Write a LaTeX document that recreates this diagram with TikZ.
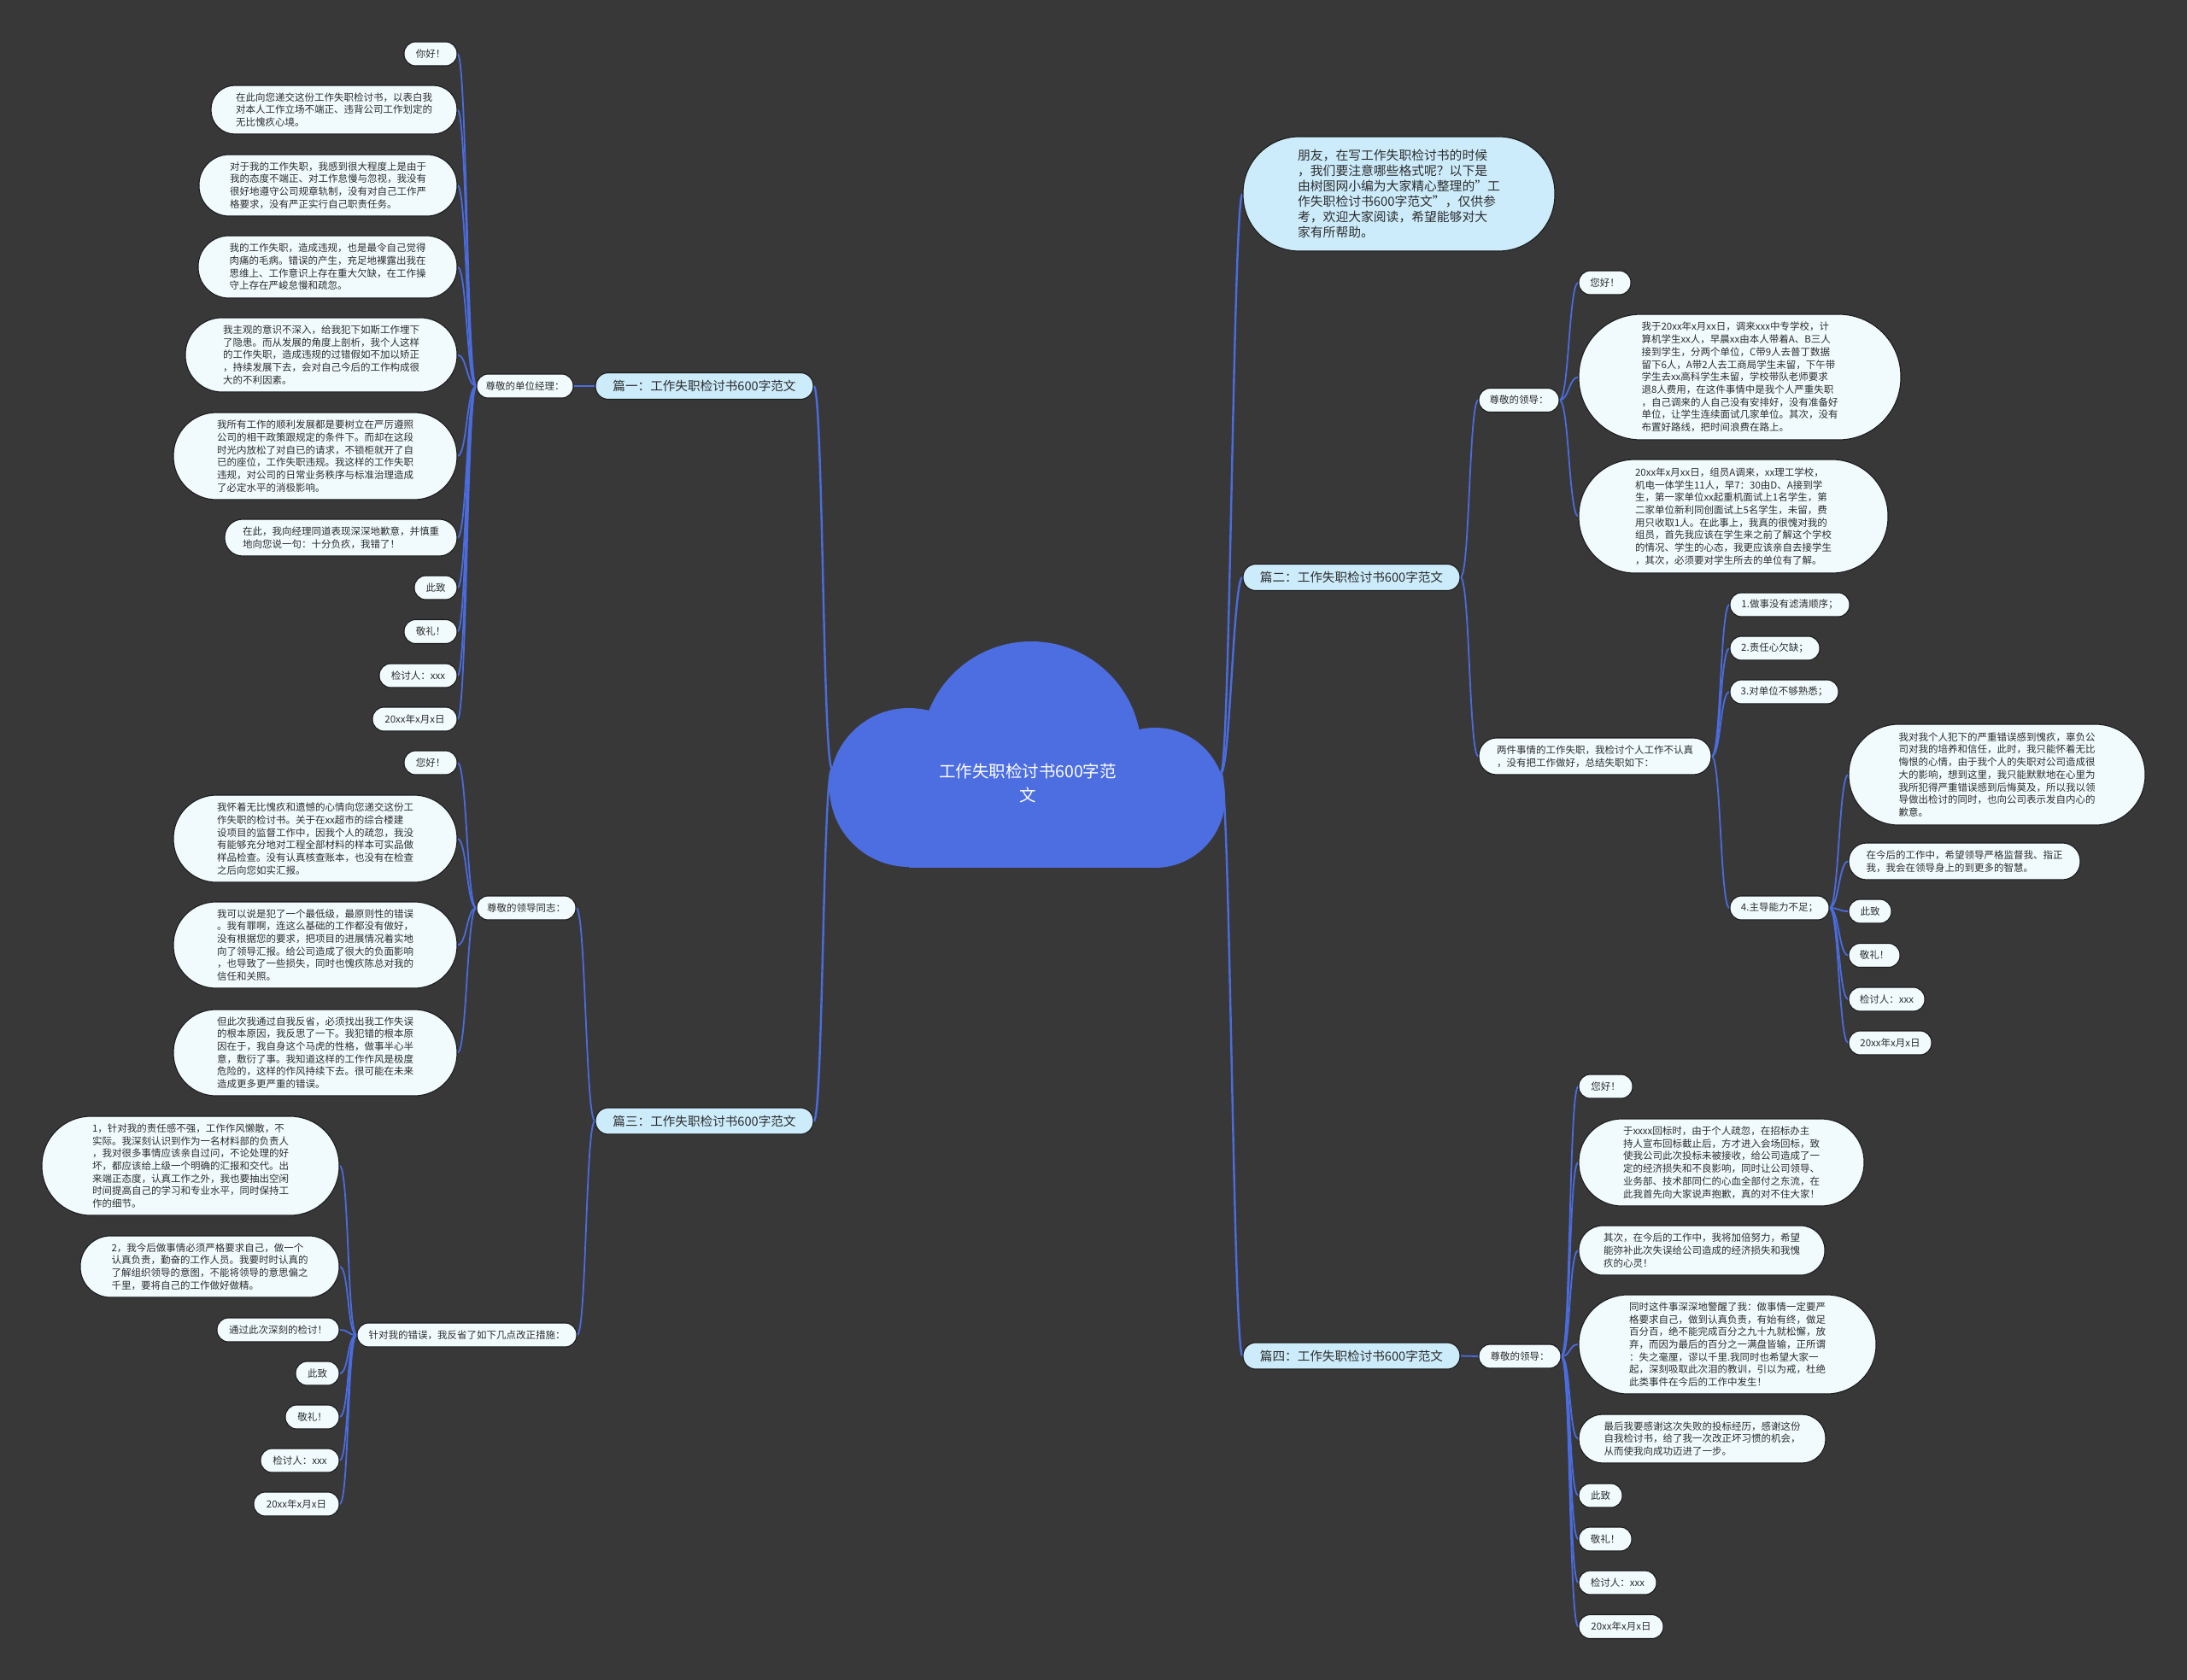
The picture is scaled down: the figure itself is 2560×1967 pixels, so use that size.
\documentclass[tikz,border=0pt]{standalone}
\usepackage{fontspec}
\setmainfont[Ligatures=NoCommon]{Noto Sans CJK SC}
\definecolor{bgc}{RGB}{57,56,56}
\definecolor{leafc}{RGB}{241,251,254}
\definecolor{labc}{RGB}{204,236,251}
\definecolor{edgec}{RGB}{28,28,28}
\definecolor{linec}{RGB}{75,108,222}
\definecolor{cloudc}{RGB}{76,110,224}
\definecolor{txtc}{RGB}{45,45,45}
\newcommand\lfFont{\fontsize{11.5}{14.7}\selectfont}
\newcommand\lbFont{\fontsize{14.6}{18}\selectfont}
\newcommand\inFont{\fontsize{14.8}{18}\selectfont}
\newcommand\ceFont{\fontsize{19.5}{28}\selectfont}
\newcommand\sq{\symbol{"22}}
\pgfdeclarelayer{bgl}
\pgfsetlayers{bgl,main}
\tikzset{
  leaf/.style 2 args={draw=edgec, line width=1.1pt, fill=leafc, minimum width=#1, minimum height=#2,
    rounded corners={#2/2-0.6}, inner sep=0pt, align=left, font=\lfFont, text=txtc},
  lab/.style={draw=edgec, line width=1.1pt, fill=labc, minimum width=255, minimum height=31,
    rounded corners=15, inner sep=0pt, font=\lbFont, text=txtc},
  cnA/.style={draw=linec, line width=2.4pt},
  cnB/.style={draw=linec, line width=1.8pt},
}
\newcommand\conL[3]{\draw[#1] (#2.west) .. controls +(-11,0) and +(11,0) .. (#3.east);}
\newcommand\conR[3]{\draw[#1] (#2.east) .. controls +(11,0) and +(-11,0) .. (#3.west);}
\begin{document}
\begin{tikzpicture}[x=1pt,y=-1pt]
\useasboundingbox (0,0) rectangle (2560,1967);
\begin{pgfonlayer}{bgl}
\fill[bgc] (0,0) rectangle (2560,1967);
\end{pgfonlayer}

% ---------- cloud ----------
\fill[cloudc] (1207,880) circle[radius=129];
\fill[cloudc] (1064,922) circle[radius=93];
\fill[cloudc] (1352,934) circle[radius=82];
\fill[cloudc] (1064,880) rectangle (1352,1016);
\node[text=white, font=\ceFont, align=center] (ctr) at (1203,917) {工作失职检讨书600字范\\文};
\coordinate (cL) at (974,900);
\coordinate (cR) at (1429,905);

% ---------- level 1 ----------
\node[lab] (p1) at (824.5,452) {篇一：工作失职检讨书600字范文};
\node[lab] (p3) at (824.5,1312.5) {篇三：工作失职检讨书600字范文};
\node[lab, minimum width=254] (p2) at (1582,676) {篇二：工作失职检讨书600字范文};
\node[lab, minimum width=254] (p4) at (1582,1587.5) {篇四：工作失职检讨书600字范文};
\node[draw=edgec, line width=1.1pt, fill=labc, minimum width=365, minimum height=134, rounded corners=66,
  inner sep=0pt, align=left, font=\inFont, text=txtc] (intro) at (1637.5,227)
  {朋友，在写工作失职检讨书的时候\\，我们要注意哪些格式呢？以下是\\由树图网小编为大家精心整理的\sq 工\\作失职检讨书600字范文\sq ，仅供参\\考，欢迎大家阅读，希望能够对大\\家有所帮助。};

% ---------- 篇一 ----------
\node[leaf={113}{28}] (a) at (614.5,452) {尊敬的单位经理：};
\node[leaf={62}{28}] (a1) at (504,63) {你好！};
\node[leaf={288}{57}] (a2) at (391,128.5) {在此向您递交这份工作失职检讨书，以表白我\\对本人工作立场不端正、违背公司工作划定的\\无比愧疚心境。};
\node[leaf={302}{72}] (a3) at (384,217) {对于我的工作失职，我感到很大程度上是由于\\我的态度不端正、对工作怠慢与忽视，我没有\\很好地遵守公司规章轨制，没有对自己工作严\\格要求，没有严正实行自己职责任务。};
\node[leaf={303}{73}] (a4) at (383.5,312.5) {我的工作失职，造成违规，也是最令自己觉得\\肉痛的毛病。错误的产生，充足地裸露出我在\\思维上、工作意识上存在重大欠缺，在工作操\\守上存在严峻怠慢和疏忽。};
\node[leaf={318}{87}] (a5) at (376,415.5) {我主观的意识不深入，给我犯下如斯工作埋下\\了隐患。而从发展的角度上剖析，我个人这样\\的工作失职，造成违规的过错假如不加以矫正\\，持续发展下去，会对自己今后的工作构成很\\大的不利因素。};
\node[leaf={332}{102}] (a6) at (369,534) {我所有工作的顺利发展都是要树立在严厉遵照\\公司的相干政策跟规定的条件下。而却在这段\\时光内放松了对自已的请求，不锁柜就开了自\\已的座位，工作失职违规。我这样的工作失职\\违规，对公司的日常业务秩序与标准治理造成\\了必定水平的消极影响。};
\node[leaf={272}{43}] (a7) at (399,629.5) {在此，我向经理同道表现深深地歉意，并慎重\\地向您说一句：十分负疚，我错了！};
\node[leaf={50}{28}] (a8) at (510,688) {此致};
\node[leaf={62}{28}] (a9) at (504,739.5) {敬礼！};
\node[leaf={91}{28}] (a10) at (489.5,791) {检讨人：xxx};
\node[leaf={99}{28}] (a11) at (485.5,842) {20xx年x月x日};

% ---------- 篇三 ----------
\node[leaf={116}{28}] (b) at (616,1063) {尊敬的领导同志：};
\node[leaf={62}{28}] (b1) at (504,893) {您好！};
\node[leaf={332}{102}] (b2) at (369,982) {我怀着无比愧疚和遗憾的心情向您递交这份工\\作失职的检讨书。关于在xx超市的综合楼建\\设项目的监督工作中，因我个人的疏忽，我没\\有能够充分地对工程全部材料的样本可实品做\\样品检查。没有认真核查账本，也没有在检查\\之后向您如实汇报。};
\node[leaf={332}{101}] (b3) at (369,1106.5) {我可以说是犯了一个最低级，最原则性的错误\\。我有罪啊，连这么基础的工作都没有做好，\\没有根据您的要求，把项目的进展情况着实地\\向了领导汇报。给公司造成了很大的负面影响\\，也导致了一些损失，同时也愧疚陈总对我的\\信任和关照。};
\node[leaf={332}{101}] (b4) at (369,1232.5) {但此次我通过自我反省，必须找出我工作失误\\的根本原因，我反思了一下。我犯错的根本原\\因在于，我自身这个马虎的性格，做事半心半\\意，敷衍了事。我知道这样的工作作风是极度\\危险的，这样的作风持续下去。很可能在未来\\造成更多更严重的错误。};
\node[leaf={257}{28}] (d) at (546.5,1563) {针对我的错误，我反省了如下几点改正措施：};
\node[leaf={348}{116}] (d1) at (223,1365) {1，针对我的责任感不强，工作作风懒散，不\\实际。我深刻认识到作为一名材料部的负责人\\，我对很多事情应该亲自过问，不论处理的好\\坏，都应该给上级一个明确的汇报和交代。出\\来端正态度，认真工作之外，我也要抽出空闲\\时间提高自己的学习和专业水平，同时保持工\\作的细节。};
\node[leaf={303}{72}] (d2) at (245.5,1483) {2，我今后做事情必须严格要求自己，做一个\\认真负责，勤奋的工作人员。我要时时认真的\\了解组织领导的意图，不能将领导的意思偏之\\千里，要将自己的工作做好做精。};
\node[leaf={143}{28}] (d3) at (325.5,1557) {通过此次深刻的检讨！};
\node[leaf={51}{28}] (d4) at (371.5,1608) {此致};
\node[leaf={63}{28}] (d5) at (365.5,1659) {敬礼！};
\node[leaf={92}{28}] (d6) at (351,1710) {检讨人：xxx};
\node[leaf={100}{28}] (d7) at (347,1761) {20xx年x月x日};

% ---------- 篇二 ----------
\node[leaf={94}{28}] (e) at (1778,468.5) {尊敬的领导：};
\node[leaf={61}{28}] (e1) at (1878.5,331) {您好！};
\node[leaf={377}{147}] (e2) at (2036.5,441.5) {我于20xx年x月xx日，调来xxx中专学校，计\\算机学生xx人，早晨xx由本人带着A、B三人\\接到学生，分两个单位，C带9人去普丁数据\\留下6人，A带2人去工商局学生未留，下午带\\学生去xx高科学生未留，学校带队老师要求\\退8人费用，在这件事情中是我个人严重失职\\，自己调来的人自己没有安排好，没有准备好\\单位，让学生连续面试几家单位。其次，没有\\布置好路线，把时间浪费在路上。};
\node[leaf={362}{133}] (e3) at (2029,604.5) {20xx年x月xx日，组员A调来，xx理工学校，\\机电一体学生11人，早7：30由D、A接到学\\生，第一家单位xx起重机面试上1名学生，第\\二家单位新利同创面试上5名学生，未留，费\\用只收取1人。在此事上，我真的很愧对我的\\组员，首先我应该在学生来之前了解这个学校\\的情况、学生的心态，我更应该亲自去接学生\\，其次，必须要对学生所去的单位有了解。};
\node[leaf={272}{43}] (f) at (1867,885.5) {两件事情的工作失职，我检讨个人工作不认真\\，没有把工作做好，总结失职如下：};
\node[leaf={140}{28}] (f1) at (2095,708) {1.做事没有滤清顺序；};
\node[leaf={105}{28}] (f2) at (2077.5,759) {2.责任心欠缺；};
\node[leaf={127}{28}] (f3) at (2088.5,810) {3.对单位不够熟悉；};
\node[leaf={116}{28}] (f4) at (2083,1063) {4.主导能力不足；};
\node[leaf={347}{118}] (g1) at (2337.5,907) {我对我个人犯下的严重错误感到愧疚，辜负公\\司对我的培养和信任，此时，我只能怀着无比\\悔恨的心情，由于我个人的失职对公司造成很\\大的影响，想到这里，我只能默默地在心里为\\我所犯得严重错误感到后悔莫及，所以我以领\\导做出检讨的同时，也向公司表示发自内心的\\歉意。};
\node[leaf={271}{43}] (g2) at (2299.5,1008.5) {在今后的工作中，希望领导严格监督我、指正\\我，我会在领导身上的到更多的智慧。};
\node[leaf={50}{28}] (g3) at (2189,1067) {此致};
\node[leaf={60}{28}] (g4) at (2194,1118.5) {敬礼！};
\node[leaf={89}{28}] (g5) at (2208.5,1170) {检讨人：xxx};
\node[leaf={97}{28}] (g6) at (2212.5,1221) {20xx年x月x日};

% ---------- 篇四 ----------
\node[leaf={96}{28}] (h) at (1779,1588) {尊敬的领导：};
\node[leaf={63}{28}] (h1) at (1879.5,1272) {您好！};
\node[leaf={334}{102}] (h2) at (2015,1361) {于xxxx回标时，由于个人疏忽，在招标办主\\持人宣布回标截止后，方才进入会场回标，致\\使我公司此次投标未被接收，给公司造成了一\\定的经济损失和不良影响，同时让公司领导、\\业务部、技术部同仁的心血全部付之东流，在\\此我首先向大家说声抱歉，真的对不住大家！};
\node[leaf={288}{58}] (h3) at (1992,1464) {其次，在今后的工作中，我将加倍努力，希望\\能弥补此次失误给公司造成的经济损失和我愧\\疚的心灵！};
\node[leaf={348}{116}] (h4) at (2022,1574) {同时这件事深深地警醒了我：做事情一定要严\\格要求自己，做到认真负责，有始有终，做足\\百分百，绝不能完成百分之九十九就松懈，放\\弃，而因为最后的百分之一满盘皆输，正所谓\\：失之毫厘，谬以千里.我同时也希望大家一\\起，深刻吸取此次泪的教训，引以为戒，杜绝\\此类事件在今后的工作中发生！};
\node[leaf={289}{57}] (h5) at (1992.5,1684.5) {最后我要感谢这次失败的投标经历，感谢这份\\自我检讨书，给了我一次改正坏习惯的机会，\\从而使我向成功迈进了一步。};
\node[leaf={51}{28}] (h6) at (1873.5,1751) {此致};
\node[leaf={62}{28}] (h7) at (1879,1802) {敬礼！};
\node[leaf={91}{28}] (h8) at (1893.5,1853) {检讨人：xxx};
\node[leaf={99}{28}] (h9) at (1897.5,1904.5) {20xx年x月x日};

% ---------- connectors ----------
\begin{pgfonlayer}{bgl}
\draw[cnA] (cL) .. controls +(-11,0) and +(11,0) .. (p1.east);
\draw[cnA] (cL) .. controls +(-11,0) and +(11,0) .. (p3.east);
\draw[cnA] (cR) .. controls +(11,0) and +(-11,0) .. (intro.west);
\draw[cnA] (cR) .. controls +(11,0) and +(-11,0) .. (p2.west);
\draw[cnA] (cR) .. controls +(11,0) and +(-11,0) .. (p4.west);
\conL{cnB}{p1}{a}
\foreach \k in {a1,a2,a3,a4,a5,a6,a7,a8,a9,a10,a11}{\conL{cnB}{a}{\k}}
\conL{cnB}{p3}{b}
\conL{cnB}{p3}{d}
\foreach \k in {b1,b2,b3,b4}{\conL{cnB}{b}{\k}}
\foreach \k in {d1,d2,d3,d4,d5,d6,d7}{\conL{cnB}{d}{\k}}
\conR{cnB}{p2}{e}
\conR{cnB}{p2}{f}
\foreach \k in {e1,e2,e3}{\conR{cnB}{e}{\k}}
\foreach \k in {f1,f2,f3,f4}{\conR{cnB}{f}{\k}}
\foreach \k in {g1,g2,g3,g4,g5,g6}{\conR{cnB}{f4}{\k}}
\conR{cnB}{p4}{h}
\foreach \k in {h1,h2,h3,h4,h5,h6,h7,h8,h9}{\conR{cnB}{h}{\k}}
\end{pgfonlayer}
\end{tikzpicture}
\end{document}
